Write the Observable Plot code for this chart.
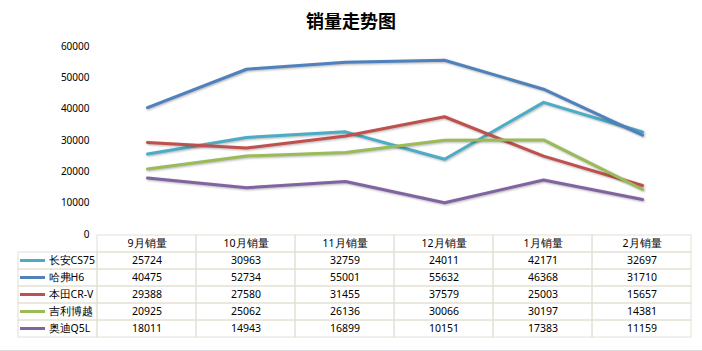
<!DOCTYPE html>
<html><head><meta charset="utf-8">
<script src="https://cdn.jsdelivr.net/npm/d3@7"></script>
<script src="https://cdn.jsdelivr.net/npm/@observablehq/plot@0.6"></script>
<style>
body{margin:0;background:#fff;font-family:"Liberation Sans","Noto Sans CJK SC",sans-serif;}
#wrap{width:702px;height:350px;border-bottom:1px solid #dcdcdc;position:relative;overflow:hidden}
#title{height:36px;line-height:40px;text-align:center;font-size:18px;font-weight:bold;color:#000;font-family:"Noto Sans CJK SC",sans-serif}
#chart svg, #table svg{display:block;overflow:visible;background:transparent}
#table{margin-top:-8px}
#chart g[aria-label="line"] path{filter:drop-shadow(1px 1.5px 1px rgba(0,0,0,0.3))}
</style></head><body>
<div id="wrap"><div id="title">销量走势图</div><div id="chart"></div><div id="table"></div></div>
<script>
const months = ["9月销量","10月销量","11月销量","12月销量","1月销量","2月销量"];
const seriesNames = ["长安CS75","哈弗H6","本田CR-V","吉利博越","奥迪Q5L"];
const colors = ["#4bacc6","#4f81bd","#c0504d","#9bbb59","#8064a2"];
const changanCS75 = [25724, 30963, 32759, 24011, 42171, 32697];
const havalH6 = [40475, 52734, 55001, 55632, 46368, 31710];
const hondaCRV = [29388, 27580, 31455, 37579, 25003, 15657];
const geelyBoyue = [20925, 25062, 26136, 30066, 30197, 14381];
const audiQ5L = [18011, 14943, 16899, 10151, 17383, 11159];
const yTicks = [0, 10000, 20000, 30000, 40000, 50000, 60000];

const seriesValues = [changanCS75, havalH6, hondaCRV, geelyBoyue, audiQ5L];
const rows = seriesNames.flatMap((name, i) => months.map((m, j) => ({series: name, month: m, value: seriesValues[i][j]})));
const colorScale = {domain: seriesNames, range: colors};
const headerKey = "__header";
const gridColor = "#e4e0d4";

const chart = Plot.plot({
  width: 702, height: 206, marginTop: 10, marginBottom: 8, marginLeft: 97, marginRight: 11,
  style: {background: "transparent", overflow: "visible", color: "#000"},
  x: {type: "point", domain: months, padding: 0.5, axis: null},
  y: {domain: [0, 60000], axis: null},
  color: colorScale,
  marks: [
    Plot.axisY({ticks: yTicks, tickSize: 0, tickPadding: 8, tickFormat: d3.format("d"), fontSize: 10, label: null}),
    Plot.line(rows, {x: "month", y: "value", z: "series", stroke: "series", strokeWidth: 3})
  ]
});
document.getElementById("chart").append(chart);

const gridCells = months.flatMap(m => [headerKey, ...seriesNames].map(r => ({m, r})));
const table = Plot.plot({
  width: 702, height: 117, marginTop: 0, marginBottom: 14, marginLeft: 97, marginRight: 11,
  style: {background: "transparent", overflow: "visible", fontSize: "10.5px", color: "#000"},
  x: {type: "band", domain: months, padding: 0, axis: null},
  y: {type: "band", domain: [headerKey, ...seriesNames], padding: 0, round: true, axis: null},
  color: colorScale,
  marks: [
    Plot.cell(gridCells, {x: "m", y: "r", stroke: gridColor, fill: "none"}),
    Plot.cell(seriesNames, {x: () => months[0], y: d => d, dx: -99, insetLeft: 20, stroke: gridColor, fill: "none"}),
    Plot.cell(seriesNames, {x: () => months[0], y: d => d, fill: d => d, dx: -99, insetLeft: 22, insetRight: 52, insetTop: 7, insetBottom: 7}),
    Plot.text(seriesNames, {y: d => d, text: d => d, frameAnchor: "left", dx: -49, textAnchor: "start"}),
    Plot.text(months, {x: d => d, y: () => headerKey, text: d => d}),
    Plot.text(rows, {x: "month", y: "series", text: d => String(d.value)})
  ]
});
document.getElementById("table").append(table);
</script>
</body></html>
